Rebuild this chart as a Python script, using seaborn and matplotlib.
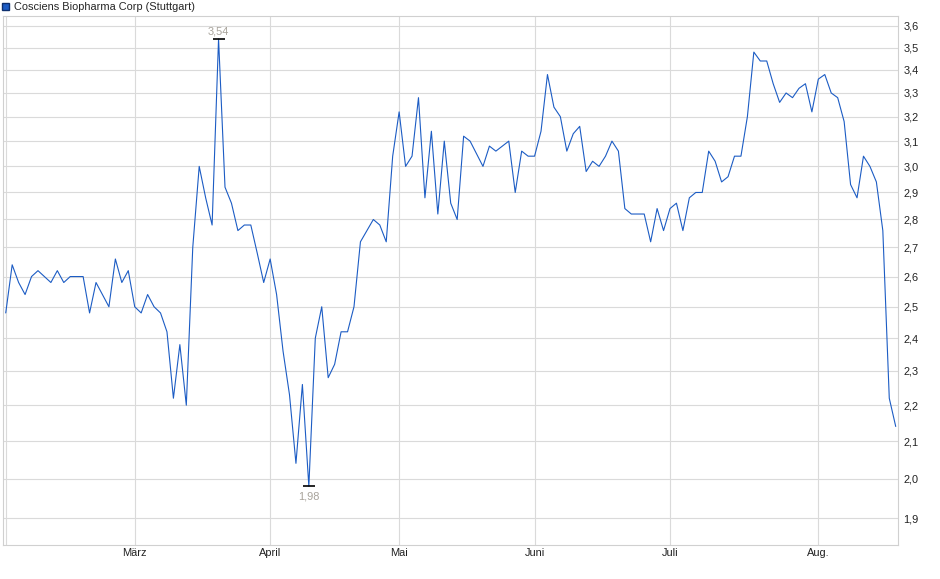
import numpy as np
import matplotlib
matplotlib.use("Agg")
import matplotlib.pyplot as plt
import seaborn as sns
from matplotlib.patches import Patch
from matplotlib.ticker import FixedLocator, NullLocator

# Daily closes (trading-day index)
prices = [
    2.48, 2.64, 2.58, 2.54, 2.60, 2.62, 2.60, 2.58, 2.62, 2.58,
    2.60, 2.60, 2.60, 2.48, 2.58, 2.54, 2.50, 2.66, 2.58, 2.62,
    2.50, 2.48, 2.54, 2.50, 2.48, 2.42, 2.22, 2.38, 2.20, 2.70,
    3.00, 2.88, 2.78, 3.54, 2.92, 2.86, 2.76, 2.78, 2.78, 2.68,
    2.58, 2.66, 2.54, 2.36, 2.23, 2.04, 2.26, 1.98, 2.40, 2.50,
    2.28, 2.32, 2.42, 2.42, 2.50, 2.72, 2.76, 2.80, 2.78, 2.72,
    3.04, 3.22, 3.00, 3.04, 3.28, 2.88, 3.14, 2.82, 3.10, 2.86,
    2.80, 3.12, 3.10, 3.05, 3.00, 3.08, 3.06, 3.08, 3.10, 2.90,
    3.06, 3.04, 3.04, 3.14, 3.38, 3.24, 3.20, 3.06, 3.13, 3.16,
    2.98, 3.02, 3.00, 3.04, 3.10, 3.06, 2.84, 2.82, 2.82, 2.82,
    2.72, 2.84, 2.76, 2.84, 2.86, 2.76, 2.88, 2.90, 2.90, 3.06,
    3.02, 2.94, 2.96, 3.04, 3.04, 3.20, 3.48, 3.44, 3.44, 3.34,
    3.26, 3.30, 3.28, 3.32, 3.34, 3.22, 3.36, 3.38, 3.30, 3.28,
    3.18, 2.93, 2.88, 3.04, 3.00, 2.94, 2.76, 2.22, 2.14,
]
monthStarts = [0, 20, 41, 61, 82, 103, 126]
monthLabels = ["", "März", "April", "Mai", "Juni", "Juli", "Aug."]
yTicks = [1.9, 2.0, 2.1, 2.2, 2.3, 2.4, 2.5, 2.6, 2.7, 2.8, 2.9, 3.0, 3.1, 3.2, 3.3, 3.4, 3.5, 3.6]
seriesName = "Cosciens Biopharma Corp (Stuttgart)"

lineColor = "#1c5cc4"
gridColor = "#dadada"
fs = 7.9

sns.set_style("white")
plt.rcParams["font.family"] = ["Liberation Sans", "DejaVu Sans"]

fig = plt.figure(figsize=(9.4, 5.79), dpi=100)
ax = fig.add_axes([2.7 / 940, 34 / 579, 895.6 / 940, 529 / 579])

idx = np.arange(len(prices))
sns.lineplot(x=idx, y=prices, ax=ax, color=lineColor, linewidth=0.8)

ax.set_yscale("log")
ax.set_ylim(1.8347, 3.647)
ax.yaxis.set_major_locator(FixedLocator(yTicks))
ax.yaxis.set_minor_locator(NullLocator())
ax.set_yticklabels([f"{t:.1f}".replace(".", ",") for t in yTicks])
ax.yaxis.tick_right()
ax.tick_params(axis="y", length=0, pad=3.5, labelsize=fs, labelcolor="#222222")

ax.set_xlim(-0.47, 138.4)
ax.set_xticks(monthStarts)
ax.set_xticklabels(monthLabels)
ax.tick_params(axis="x", length=0, pad=2.5, labelsize=fs, labelcolor="#222222")

ax.grid(True, color=gridColor, linewidth=0.8)
ax.set_axisbelow(True)
for sp in ax.spines.values():
    sp.set_color("#d0d0d0")
    sp.set_linewidth(0.8)
ax.set_xlabel("")
ax.set_ylabel("")

# Mark high and low
hi = int(np.argmax(prices))
lo = int(np.argmin(prices))
for i, off, va in [(hi, 1.5, "bottom"), (lo, -4, "top")]:
    ax.plot(i, prices[i], marker="_", markersize=8, markeredgewidth=1.2, color="black")
    ax.annotate(
        f"{prices[i]:.2f}".replace(".", ","),
        xy=(i, prices[i]), xytext=(0, off), textcoords="offset points",
        ha="center", va=va, fontsize=fs, color="#a8a39b",
    )

ax.legend(
    handles=[Patch(facecolor=lineColor, edgecolor="#0d2f6e", label=seriesName)],
    loc="upper left", bbox_to_anchor=(0.0, 1.0), bbox_transform=fig.transFigure,
    frameon=False, borderaxespad=0.1, borderpad=0.1,
    handlelength=0.6, handleheight=0.6, handletextpad=0.5, fontsize=fs,
)

fig.savefig("out.png", dpi=100)
